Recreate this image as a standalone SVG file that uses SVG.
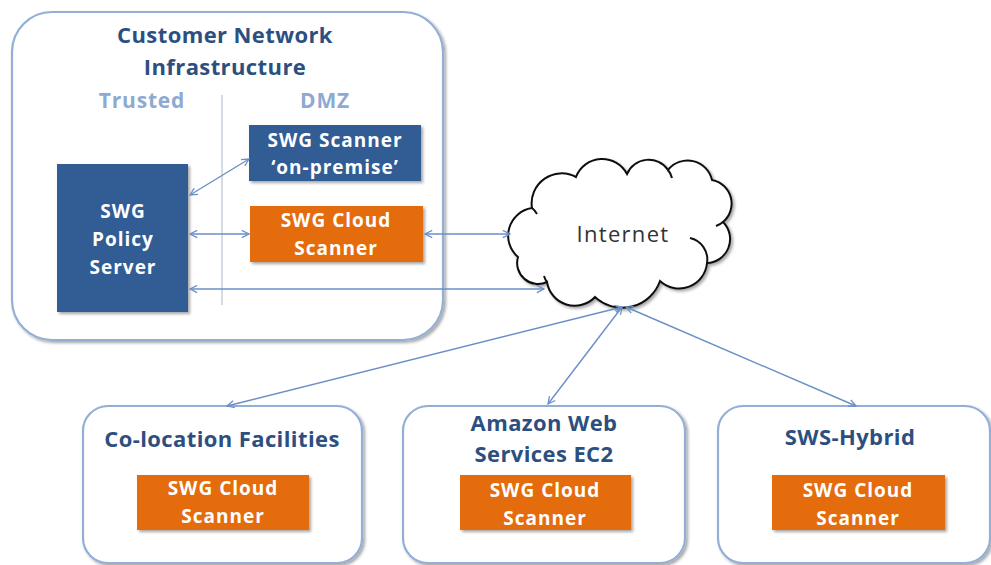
<svg xmlns="http://www.w3.org/2000/svg" width="991" height="565" viewBox="0 0 991 565">
<defs>
<filter id="sh" x="-10%" y="-10%" width="130%" height="130%">
<feDropShadow dx="2" dy="2" stdDeviation="1.8" flood-color="#000" flood-opacity="0.35"/>
</filter>
<marker id="ah" viewBox="0 0 10 10" refX="9" refY="5" markerWidth="9" markerHeight="9" markerUnits="userSpaceOnUse" orient="auto-start-reverse">
<path d="M1,1 L9,5 L1,9" fill="none" stroke="#6A8FC7" stroke-width="1.4"/>
</marker>
</defs>
<style>
.frame{fill:#fff;stroke:#93AFD6;stroke-width:2.2;filter:url(#sh)}
.blue{fill:#335C94;filter:url(#sh)}
.orange{fill:#E46C0A;filter:url(#sh)}
.t{font-family:"Open Sans","Liberation Sans",sans-serif;font-weight:bold;text-anchor:middle}
.title{font-size:22px;fill:#2D4F80;letter-spacing:0.4px}
.zone{font-size:21px;fill:#8EAAD0;letter-spacing:0.8px}
.w{font-size:19px;fill:#fff;letter-spacing:1px}
.inet{font-family:"Open Sans","Liberation Sans",sans-serif;font-size:22px;fill:#333;text-anchor:middle;letter-spacing:1.3px}
.c{fill:none;stroke:#6A8FC7;stroke-width:1.4;marker-start:url(#ah);marker-end:url(#ah)}
</style>
<rect width="991" height="565" fill="#fff"/>

<g id="customer-network">
<rect class="frame" x="12" y="12" width="431" height="328" rx="40"/>
<text class="t title" x="225" y="43">Customer Network</text>
<text class="t title" x="225" y="75">Infrastructure</text>
<text class="t zone" x="142" y="108">Trusted</text>
<text class="t zone" x="325" y="108">DMZ</text>
<line x1="222" y1="95" x2="222" y2="305" stroke="#B8C3D0" stroke-width="1.2"/>
</g>

<g id="policy-server">
<rect class="blue" x="57" y="164" width="131" height="148"/>
<text class="t w" x="123" y="218">SWG</text>
<text class="t w" x="123" y="246">Policy</text>
<text class="t w" x="123" y="274">Server</text>
</g>

<g id="scanner-onprem">
<rect class="blue" x="249" y="125" width="172" height="56"/>
<text class="t w" x="335" y="147">SWG Scanner</text>
<text class="t w" x="335" y="174">‘on-premise’</text>
</g>

<g id="cloud-scanner-dmz">
<rect class="orange" x="250" y="206" width="173" height="56"/>
<text class="t w" x="336" y="227">SWG Cloud</text>
<text class="t w" x="336" y="255">Scanner</text>
</g>

<g id="internet">
<path d="M518,257 A28,28 0 0 1 532,208 A30,30 0 0 1 576,177 A28,28 0 0 1 627,174 A23.5,23.5 0 0 1 668,170 A25,25 0 0 1 712,180 A24,24 0 0 1 723,222 A24,24 0 0 1 707,263 A28,28 0 0 1 660,281 A40,40 0 0 1 595,297 A28,28 0 0 1 547,282 A21,21 0 0 1 518,257 Z" fill="#fff" stroke="#111" stroke-width="2" filter="url(#sh)"/>
<path d="M690,238 A22,22 0 0 1 707,263" fill="none" stroke="#111" stroke-width="2"/>
<path d="M532,208 A20,20 0 0 1 537,214" fill="none" stroke="#111" stroke-width="2"/>
<path d="M723,222 A20,20 0 0 1 716,226" fill="none" stroke="#111" stroke-width="2"/>
<path d="M668,170 A20,20 0 0 1 672,178" fill="none" stroke="#111" stroke-width="2"/>
<path d="M547,282 A20,20 0 0 1 544,276" fill="none" stroke="#111" stroke-width="2"/>
<text class="inet" x="623" y="242">Internet</text>
</g>

<g id="colocation">
<rect class="frame" x="83" y="406" width="279" height="157" rx="25"/>
<text class="t title" x="222" y="447">Co-location Facilities</text>
<rect class="orange" x="137" y="475" width="172" height="55"/>
<text class="t w" x="223" y="495">SWG Cloud</text>
<text class="t w" x="223" y="523">Scanner</text>
</g>

<g id="amazon">
<rect class="frame" x="403" y="406" width="282" height="157" rx="25"/>
<text class="t title" x="544" y="431">Amazon Web</text>
<text class="t title" x="544" y="462">Services EC2</text>
<rect class="orange" x="460" y="475" width="171" height="55"/>
<text class="t w" x="545" y="497">SWG Cloud</text>
<text class="t w" x="545" y="525">Scanner</text>
</g>

<g id="sws-hybrid">
<rect class="frame" x="718" y="406" width="272" height="157" rx="25"/>
<text class="t title" x="850" y="445">SWS-Hybrid</text>
<rect class="orange" x="772" y="475" width="173" height="55"/>
<text class="t w" x="858" y="497">SWG Cloud</text>
<text class="t w" x="858" y="525">Scanner</text>
</g>

<g id="connectors">
<line class="c" x1="190" y1="195" x2="249" y2="159"/>
<line class="c" x1="190" y1="234" x2="249" y2="234"/>
<line class="c" x1="425" y1="234" x2="510" y2="234"/>
<line class="c" x1="190" y1="289" x2="544" y2="289"/>
<line class="c" x1="622" y1="307" x2="227" y2="406"/>
<line class="c" x1="622" y1="307" x2="548" y2="404"/>
<line class="c" x1="626" y1="307" x2="856" y2="406"/>
</g>
</svg>
